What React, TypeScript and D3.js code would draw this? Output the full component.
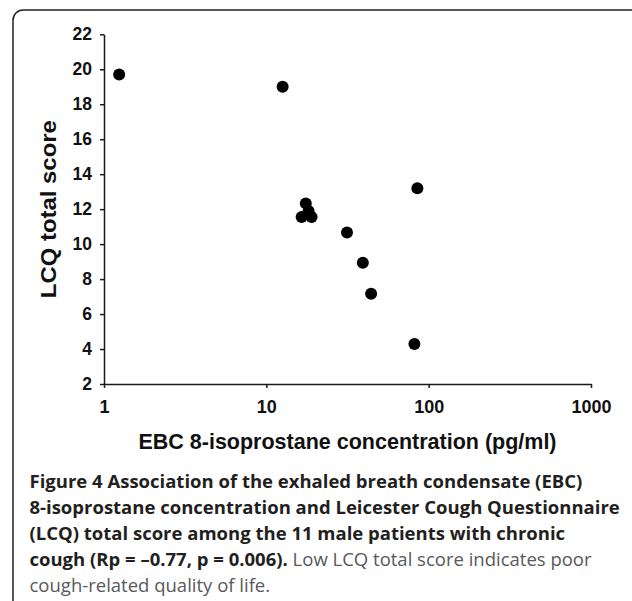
import React, { useEffect, useRef } from "react";
import * as d3 from "d3";

// Data
const isoprostane: number[] = [1.24, 12.6, 17.5, 18.2, 16.5, 19.0, 85.2, 31.4, 39.3, 44.2, 81.7];
const lcqScore: number[] = [19.7, 19.0, 12.33, 11.9, 11.55, 11.55, 13.19, 10.67, 8.94, 7.16, 4.29];
const xTicks: number[] = [1, 10, 100, 1000];
const yTicks: number[] = [2, 4, 6, 8, 10, 12, 14, 16, 18, 20, 22];
const xTitle = "EBC 8-isoprostane concentration (pg/ml)";
const yTitle = "LCQ total score";
const captionLines: { bold: string; regular: string }[] = [
  { bold: "Figure 4 Association of the exhaled breath condensate (EBC)", regular: "" },
  { bold: "8-isoprostane concentration and Leicester Cough Questionnaire", regular: "" },
  { bold: "(LCQ) total score among the 11 male patients with chronic", regular: "" },
  { bold: "cough (Rp = \u20130.77, p = 0.006).", regular: " Low LCQ total score indicates poor" },
  { bold: "", regular: "cough-related quality of life." },
];

const W = 632;
const H = 601;
const X0 = 104;
const X1 = 591;
const Y0 = 384;
const Y1 = 34.3;

export default function App() {
  const xAxisRef = useRef<SVGGElement>(null);
  const yAxisRef = useRef<SVGGElement>(null);

  const x = d3.scaleLog().domain([1, 1000]).range([X0, X1]);
  const y = d3.scaleLinear().domain([2, 22]).range([Y0, Y1]);

  useEffect(() => {
    if (xAxisRef.current) {
      const g = d3.select(xAxisRef.current);
      g.call(
        d3
          .axisBottom(x)
          .tickValues(xTicks)
          .tickFormat((d) => String(d))
          .tickSize(4)
          .tickSizeOuter(0)
          .tickPadding(12)
      );
      g.selectAll("path, line").attr("stroke", "#1a1a1a").attr("stroke-width", 1.5);
      g.selectAll("text")
        .attr("fill", "#111")
        .style("font-family", "'Liberation Sans', Arial, sans-serif")
        .style("font-weight", "bold")
        .style("font-size", "18px");
      g.attr("font-family", null).attr("font-size", null);
    }
    if (yAxisRef.current) {
      const g = d3.select(yAxisRef.current);
      g.call(
        d3
          .axisLeft(y)
          .tickValues(yTicks)
          .tickFormat((d) => String(d))
          .tickSize(4)
          .tickSizeOuter(0)
          .tickPadding(8)
      );
      g.selectAll("path, line").attr("stroke", "#1a1a1a").attr("stroke-width", 1.5);
      g.selectAll("text")
        .attr("fill", "#111")
        .style("font-family", "'Liberation Sans', Arial, sans-serif")
        .style("font-weight", "bold")
        .style("font-size", "17.5px");
      g.attr("font-family", null).attr("font-size", null);
    }
  });

  const captionTop = 487.5;
  const lineGap = 26.2;

  return (
    <svg
      width={W}
      height={H}
      style={{ position: "absolute", left: 0, top: 0, background: "#fff" }}
    >
      <rect x={0} y={0} width={W} height={H} fill="#fff" />
      <rect
        x={13}
        y={10}
        width={640}
        height={640}
        rx={10}
        ry={10}
        fill="none"
        stroke="#231f20"
        strokeWidth={1.5}
      />
      <g ref={xAxisRef} transform={`translate(0,${Y0})`} />
      <g ref={yAxisRef} transform={`translate(${X0},0)`} />
      {isoprostane.map((v, i) => (
        <circle key={i} cx={x(v)} cy={y(lcqScore[i])} r={6} fill="#000" />
      ))}
      <text
        x={(X0 + X1) / 2}
        y={449}
        textAnchor="middle"
        fontFamily="'Liberation Sans', Arial, sans-serif"
        fontWeight="bold"
        fontSize={21.5}
        fill="#111"
      >
        {xTitle}
      </text>
      <text
        transform={`translate(56,${(Y0 + Y1) / 2}) rotate(-90)`}
        textAnchor="middle"
        fontFamily="'Liberation Sans', Arial, sans-serif"
        fontWeight="bold"
        fontSize={22}
        textLength={178}
        lengthAdjust="spacingAndGlyphs"
        fill="#111"
      >
        {yTitle}
      </text>
      {captionLines.map((ln, i) => (
        <text
          key={i}
          x={29.5}
          y={captionTop + i * lineGap}
          fontFamily="'Open Sans', 'Noto Sans', sans-serif"
          fontSize={18.5}
        >
          {ln.bold && (
            <tspan fontWeight="bold" fill="#231f20">
              {ln.bold}
            </tspan>
          )}
          {ln.regular && <tspan fill="#58595b">{ln.regular}</tspan>}
        </text>
      ))}
    </svg>
  );
}
